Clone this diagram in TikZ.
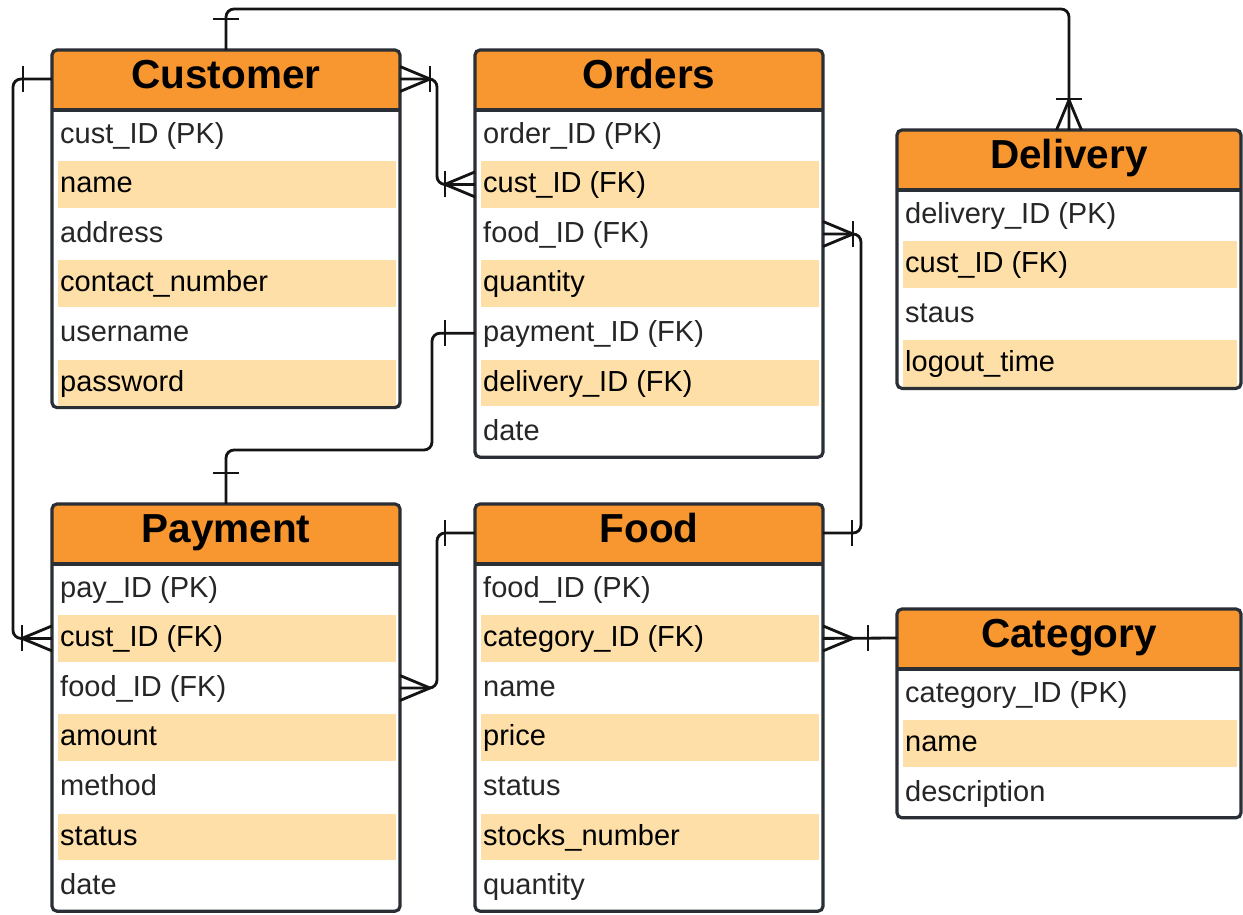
\documentclass[tikz,border=0pt]{standalone}
\usepackage{fontspec}
\setmainfont{Liberation Sans}
\usetikzlibrary{calc}
\definecolor{hdrorange}{HTML}{F8962F}
\definecolor{rowtan}{HTML}{FEDFA7}
\definecolor{bordc}{HTML}{2A2E35}
\definecolor{linec}{HTML}{141414}
\definecolor{txtgray}{HTML}{262626}
\tikzset{
  tbox/.style={rectangle, fill=white, inner sep=0pt, outer sep=0pt},
  border/.style={draw=bordc, line width=3.2pt},
  conn/.style={draw=linec, line width=2.8pt, rounded corners=8pt},
  relmark/.style={draw=linec, line width=2.8pt},
  ttl/.style={anchor=base, inner sep=0pt, font=\fontsize{40.5}{48}\selectfont\bfseries},
  rowtxt/.style={anchor=base west, inner sep=0pt, font=\fontsize{29}{34}\selectfont},
}
% #1 name, #2 left, #3 top, #4 width, #5 title, #6 rows, #7 number of rows
\newcommand\ertable[7]{%
  \node[tbox, minimum width=#4pt, minimum height={60pt+#7*49.6pt}, anchor=north west] (#1) at (#2,#3) {};
  \begin{scope}
    \clip[rounded corners=5pt] (#1.north west) rectangle (#1.south east);
    \fill[hdrorange] (#1.north west) rectangle ([yshift=-60pt]#1.north east);
  \end{scope}
  \node[ttl] (#1-h) at ($(#1.north)+(0,38)$) {#5};
  \coordinate (#1-hl) at ($(#1.north west)+(0,29)$);
  \coordinate (#1-hr) at ($(#1.north east)+(0,29)$);
  \foreach \rw [count=\i] in {#6} {
    \pgfmathsetmacro\rt{60+(\i-1)*49.6}
    \ifodd\i
      \node[rowtxt, text=txtgray] (#1-r\i) at ($(#1.north west)+(8,\rt+33)$) {\rw};
    \else
      \fill[rowtan] ($(#1.north west)+(6,\rt+1.5)$) rectangle ($(#1.north east)+(-4,\rt+48)$);
      \node[rowtxt, text=black] (#1-r\i) at ($(#1.north west)+(8,\rt+33)$) {\rw};
    \fi
    \coordinate (#1-c\i) at ($(#1.north west)+(0,\rt+24.8)$);
    \coordinate (#1-e\i) at ($(#1.north east)+(0,\rt+24.8)$);
  }
  \draw[border, rounded corners=5pt] (#1.north west) rectangle (#1.south east);
  \draw[border] ([yshift=-60pt]#1.north west) -- ([yshift=-60pt]#1.north east);
}
% crow's foot: toes at #1, apex 30 outward in direction #2
\newcommand\crowfoot[2]{%
  \begin{scope}[shift={(#1)}, rotate=#2]
    \draw[relmark] (0,12.5) -- (30,0) -- (0,-12.5);
  \end{scope}}
% single bar at distance #3 from #1, outward direction #2
\newcommand\onebar[3]{%
  \begin{scope}[shift={(#1)}, rotate=#2]
    \draw[relmark] (#3,-13) -- (#3,13);
  \end{scope}}
\begin{document}
\begin{tikzpicture}[x=1pt, y=-1pt]
\useasboundingbox[fill=white] (0,0) rectangle (1243,914);

\ertable{cust}{52}{50}{348}{Customer}{cust\_ID (PK), name, address, contact\_number, username, password}{6}
\ertable{ord}{475}{50}{348}{Orders}{order\_ID (PK), cust\_ID (FK), food\_ID (FK), quantity, payment\_ID (FK), delivery\_ID (FK), date}{7}
\ertable{deliv}{897}{130}{344}{Delivery}{delivery\_ID (PK), cust\_ID (FK), staus, logout\_time}{4}
\ertable{pay}{52}{504}{348}{Payment}{pay\_ID (PK), cust\_ID (FK), food\_ID (FK), amount, method, status, date}{7}
\ertable{food}{475}{504}{348}{Food}{food\_ID (PK), category\_ID (FK), name, price, status, stocks\_number, quantity}{7}
\ertable{cat}{897}{609}{344}{Category}{category\_ID (PK), name, description}{3}

\coordinate (k1) at (0,9);
\coordinate (k2) at (13,0);
\coordinate (k3) at (437,0);
\coordinate (k4) at (432,450);
\coordinate (k5) at (437,0);
\coordinate (k6) at (861,0);

% Customer -- Delivery
\draw[conn] (cust.north) |- (k1 -| deliv.north) -- (deliv.north);
\onebar{cust.north}{90}{31}
\crowfoot{deliv.north}{90}
\onebar{deliv.north}{90}{31}
% Customer -- Payment
\draw[conn] (cust-hl) -| (k2 |- pay-c2) -- (pay-c2);
\onebar{cust-hl}{180}{29}
\crowfoot{pay-c2}{180}
\onebar{pay-c2}{180}{30}
% Customer -- Orders
\draw[conn] (cust-hr) -| (k3 |- ord-c2) -- (ord-c2);
\crowfoot{cust-hr}{0}
\onebar{cust-hr}{0}{30}
\crowfoot{ord-c2}{180}
\onebar{ord-c2}{180}{30}
% Orders -- Payment
\draw[conn] (ord-c5) -| (k4) -| (pay.north);
\onebar{ord-c5}{180}{30}
\onebar{pay.north}{90}{31}
% Food -- Payment
\draw[conn] (food-hl) -| (k5 |- pay-e3) -- (pay-e3);
\onebar{food-hl}{180}{30}
\crowfoot{pay-e3}{0}
% Food -- Orders
\draw[conn] (food-hr) -| (k6 |- ord-e3) -- (ord-e3);
\onebar{food-hr}{0}{29}
\crowfoot{ord-e3}{0}
\onebar{ord-e3}{0}{30}
% Category -- Food
\draw[conn] (cat-hl) -- (food-e2);
\onebar{cat-hl}{180}{29}
\crowfoot{food-e2}{0}
\end{tikzpicture}
\end{document}
